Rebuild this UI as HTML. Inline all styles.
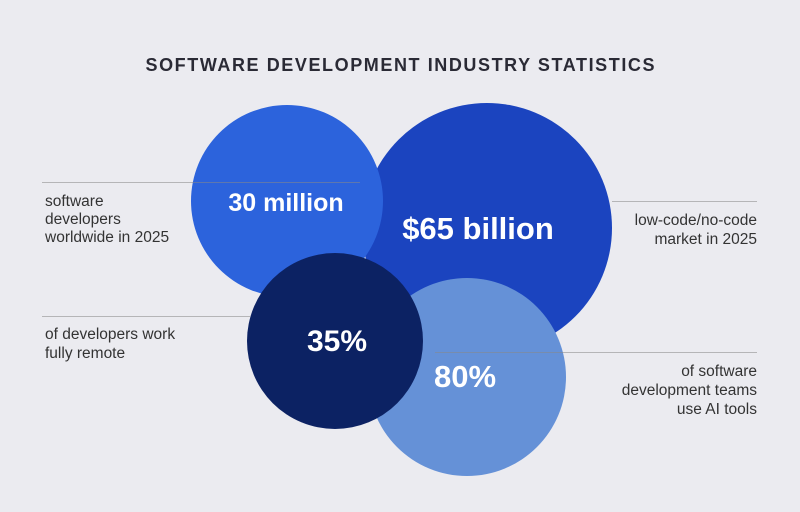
<!DOCTYPE html>
<html><head><meta charset="utf-8"><style>
body{margin:0;width:800px;height:512px;background:#ebebf0;overflow:hidden;font-family:"Liberation Sans",sans-serif}
svg{display:block}
</style></head><body>
<svg width="800" height="512">
<rect width="800" height="512" fill="#ebebf0"/>
<text x="400" y="71" text-anchor="middle" font-size="18" font-weight="bold" fill="#2a2a35" textLength="509" lengthAdjust="spacing">SOFTWARE DEVELOPMENT INDUSTRY STATISTICS</text>
<circle cx="487" cy="228" r="125" fill="#1b44bf"/>
<circle cx="287" cy="201" r="96" fill="#2c63dc"/>
<circle cx="467" cy="377" r="99" fill="#6591d7"/>
<circle cx="335" cy="341" r="88" fill="#0c2263"/>
<g stroke="#888" stroke-opacity="0.55" stroke-width="1">
<line x1="42" y1="182.5" x2="360" y2="182.5"/>
<line x1="612" y1="201.5" x2="757" y2="201.5"/>
<line x1="42" y1="316.5" x2="250" y2="316.5"/>
<line x1="435" y1="352.5" x2="757" y2="352.5"/>
</g>
<g fill="#fff" font-weight="bold" text-anchor="middle">
<text x="286" y="211" font-size="25">30 million</text>
<text x="478" y="239" font-size="31">$65 billion</text>
<text x="337" y="351" font-size="30">35%</text>
<text x="465" y="387" font-size="31">80%</text>
</g>
<g fill="#333" font-size="15.5">
<text><tspan x="45" y="206">software</tspan><tspan x="45" y="224">developers</tspan><tspan x="45" y="242">worldwide in 2025</tspan></text>
<text text-anchor="end"><tspan x="757" y="225">low-code/no-code</tspan><tspan x="757" y="244">market in 2025</tspan></text>
<text><tspan x="45" y="339">of developers work</tspan><tspan x="45" y="358">fully remote</tspan></text>
<text text-anchor="end"><tspan x="757" y="376">of software</tspan><tspan x="757" y="395">development teams</tspan><tspan x="757" y="414">use AI tools</tspan></text>
</g>
</svg>
</body></html>
